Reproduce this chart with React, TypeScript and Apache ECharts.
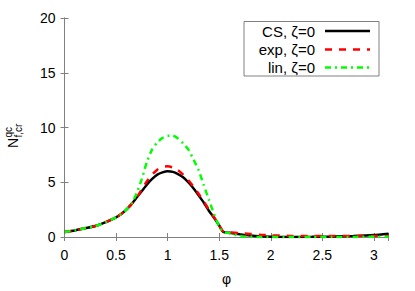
import React, { useEffect, useRef } from "react";
import * as echarts from "echarts";

const phi = [0, 0.1, 0.2, 0.3, 0.4, 0.5, 0.55, 0.6, 0.65, 0.7, 0.75, 0.8, 0.85, 0.9, 0.95, 1.0, 1.05, 1.1, 1.15, 1.2, 1.25, 1.3, 1.35, 1.4, 1.45, 1.5, 1.54, 1.6, 1.7, 1.8, 1.9, 2.0, 2.2, 2.4, 2.6, 2.8, 3.0, 3.1416];
const csValues = [0.45, 0.6, 0.8, 1.0, 1.35, 1.8, 2.1, 2.5, 3.0, 3.6, 4.2, 4.8, 5.3, 5.7, 5.9, 6.0, 5.95, 5.75, 5.45, 5.0, 4.45, 3.8, 3.15, 2.4, 1.75, 1.05, 0.45, 0.38, 0.25, 0.13, 0.06, 0.03, 0.0, 0.02, 0.05, 0.1, 0.18, 0.3];
const expValues = [0.45, 0.6, 0.8, 1.0, 1.35, 1.8, 2.1, 2.5, 3.0, 3.6, 4.35, 5.1, 5.7, 6.15, 6.4, 6.45, 6.35, 6.1, 5.7, 5.2, 4.6, 3.95, 3.25, 2.5, 1.8, 1.05, 0.5, 0.42, 0.35, 0.28, 0.2, 0.15, 0.1, 0.08, 0.08, 0.08, 0.1, 0.1];
const linValues = [0.45, 0.6, 0.8, 1.0, 1.35, 1.8, 2.1, 2.5, 3.05, 4.0, 5.3, 6.9, 8.0, 8.65, 9.05, 9.25, 9.25, 9.0, 8.55, 8.0, 7.1, 6.1, 4.75, 3.4, 2.1, 0.95, 0.45, 0.35, 0.08, 0.02, 0.0, 0.0, 0.0, 0.0, 0.0, 0.0, 0.02, 0.02];
const seriesNames = ["CS, \u03b6=0", "exp, \u03b6=0", "lin, \u03b6=0"];
const seriesColors = ["#000000", "#ff0000", "#00ff00"];
const xTicks = [0, 0.5, 1, 1.5, 2, 2.5, 3];
const yTicks = [0, 5, 10, 15, 20];

const FONT = "'Liberation Sans', Arial, Helvetica, sans-serif";
const AXIS_COLOR = "#808080";

export default function App() {
  const ref = useRef<HTMLDivElement>(null);
  useEffect(() => {
    if (!ref.current) return;
    const chart = echarts.init(ref.current, null, { renderer: "svg" });
    const pair = (vals: number[]) => phi.map((p, i) => [p, vals[i]]);
    const fmtX = (v: number) => {
      const hit = xTicks.find((t) => Math.abs(t - v) < 1e-9);
      return hit === undefined ? "" : String(hit);
    };
    const axisCommon = {
      axisLine: { show: true, lineStyle: { color: AXIS_COLOR, width: 1 } },
      axisTick: { show: true, inside: true, length: 4, lineStyle: { color: AXIS_COLOR } },
      splitLine: { show: false },
    };
    const lineStyles: any[] = [
      { color: seriesColors[0], width: 2.5, type: "solid" },
      { color: seriesColors[1], width: 2.5, type: [7, 7] },
      { color: seriesColors[2], width: 2.5, type: [6, 4, 2, 4] },
    ];
    const legendY = [31, 49.5, 67.5];
    const option: any = {
      animation: false,
      backgroundColor: "#ffffff",
      textStyle: { fontFamily: FONT },
      grid: { left: 64.5, right: 26.5, top: 18, bottom: 49.5, containLabel: false },
      xAxis: [
        {
          type: "value",
          min: 0,
          max: Math.PI,
          interval: 0.5,
          position: "bottom",
          ...axisCommon,
          axisLabel: { formatter: fmtX, color: "#000", fontSize: 14, fontFamily: FONT, margin: 11, showMaxLabel: true },
          name: "\u03c6",
          nameLocation: "middle",
          nameGap: 35,
          nameTextStyle: { color: "#000", fontSize: 14, fontFamily: FONT },
        },
        {
          type: "value",
          min: 0,
          max: Math.PI,
          interval: 0.5,
          position: "top",
          ...axisCommon,
          axisLabel: { show: false },
        },
      ],
      yAxis: [
        {
          type: "value",
          min: 0,
          max: 20,
          interval: 5,
          position: "left",
          ...axisCommon,
          axisLabel: {
            color: "#000",
            fontSize: 14,
            fontFamily: FONT,
            margin: 9,
            formatter: (v: number) => (yTicks.includes(v) ? String(v) : ""),
          },
        },
        {
          type: "value",
          min: 0,
          max: 20,
          interval: 5,
          position: "right",
          ...axisCommon,
          axisLabel: { show: false },
        },
      ],
      series: [csValues, expValues, linValues].map((vals, i) => ({
        name: seriesNames[i],
        type: "line",
        xAxisIndex: 0,
        yAxisIndex: 0,
        data: pair(vals),
        showSymbol: false,
        symbol: "none",
        smooth: 0.2,
        lineStyle: lineStyles[i],
        z: 2 + i,
      })),
      graphic: [
        {
          type: "group",
          x: 13,
          y: 128,
          rotation: Math.PI / 2,
          children: [
            { type: "text", x: -20, y: 0, style: { text: "N", font: `14px ${FONT}`, fill: "#000", textAlign: "left", textVerticalAlign: "middle" } },
            { type: "text", x: -9.5, y: -5, style: { text: "qc", font: `10px ${FONT}`, fill: "#000", textAlign: "left", textVerticalAlign: "middle" } },
            { type: "text", x: -9.5, y: 5, style: { text: "f,cr", font: `10px ${FONT}`, fill: "#000", textAlign: "left", textVerticalAlign: "middle" } },
          ],
        },
        {
          type: "rect",
          shape: { x: 244, y: 21.5, width: 135, height: 54.5 },
          style: { fill: "#ffffff", stroke: AXIS_COLOR, lineWidth: 1 },
          z: 10,
        },
        ...seriesNames.map((n, i) => ({
          type: "text",
          x: 315,
          y: legendY[i],
          z: 11,
          style: { text: n, font: `15px ${FONT}`, fill: "#000", textAlign: "right", textVerticalAlign: "middle" },
        })),
        ...seriesNames.map((n, i) => ({
          type: "line",
          z: 11,
          shape: { x1: 325, y1: legendY[i], x2: 370, y2: legendY[i] },
          style: {
            stroke: seriesColors[i],
            lineWidth: 2.5,
            lineDash: i === 0 ? null : i === 1 ? [7, 7] : [6, 4, 2, 4],
          },
        })),
      ],
    };
    chart.setOption(option);
    return () => chart.dispose();
  }, []);
  return <div ref={ref} style={{ width: 415, height: 291, position: "absolute", left: 0, top: 0 }} />;
}
